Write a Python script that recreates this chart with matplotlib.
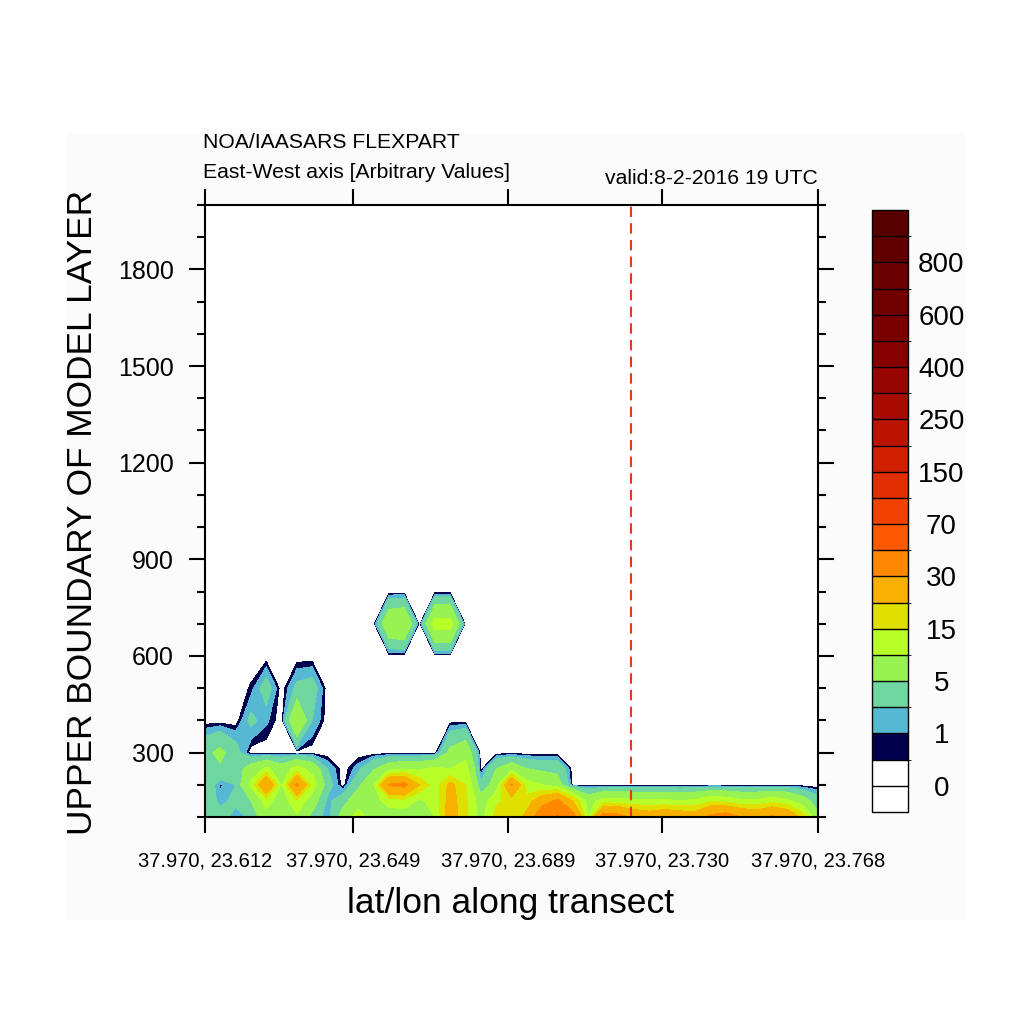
import numpy as np
import matplotlib
matplotlib.use("Agg")
import matplotlib.pyplot as plt
from matplotlib.colors import ListedColormap, BoundaryNorm
from matplotlib.patches import Rectangle
from matplotlib.ticker import MultipleLocator

plt.rcParams['font.family'] = ['Liberation Sans', 'DejaVu Sans']

# -----------------------------
# DATA (read off the transect)
# -----------------------------
# upper boundary of model layer (m)
heights = [100, 150, 200, 250, 300, 400, 500, 600, 700, 800]

# concentration per layer, 41 points along the transect
lev100 = [3.5, 3, 1.2, 2.5, 8, 6, 9, 4, 0.8, 7, 12, 8, 7, 7, 4.5, 10, 24, 16, 8, 17, 15,
          22, 40, 52, 35, 10, 36, 34, 28, 25, 28, 26, 25, 33, 36, 30, 27, 32, 28, 18, 6]
lev150 = [3.5, 1.5, 2.5, 5, 12, 7, 14, 7, 1.5, 3.5, 8, 8, 12, 13, 9, 12, 23, 16, 7, 14, 17,
          17, 25, 32, 20, 8, 12, 12, 11, 11, 11, 10, 11, 14, 13, 11, 11, 13, 11, 7, 3]
lev200 = [4, 0.8, 2, 11, 30, 9.5, 32, 13, 3, 0, 4, 10, 31, 33, 20, 12, 22, 15, 2.5, 7, 31,
          12, 10, 7, 0, 0, 0, 0, 0, 0, 0, 0, 0, 0, 0, 0, 0, 0, 0, 0, 0]
lev250 = [5, 4.5, 3, 7, 11, 7, 12, 8, 2, 0, 1.5, 4.5, 8, 9, 9, 11, 10, 12, 0, 5, 8,
          5, 4, 4, 0, 0, 0, 0, 0, 0, 0, 0, 0, 0, 0, 0, 0, 0, 0, 0, 0]
lev300 = [4, 6, 3, 0, 0, 0, 0, 0, 0, 0, 0, 0, 0, 0, 0, 0, 6, 8, 0, 0, 0,
          0, 0, 0, 0, 0, 0, 0, 0, 0, 0, 0, 0, 0, 0, 0, 0, 0, 0, 0, 0]
lev400 = [0, 0, 0, 2.5, 1.2, 0, 10, 2, 0, 0, 0, 0, 0, 0, 0, 0, 0, 0, 0, 0, 0,
          0, 0, 0, 0, 0, 0, 0, 0, 0, 0, 0, 0, 0, 0, 0, 0, 0, 0, 0, 0]
lev500 = [0, 0, 0, 0.6, 3, 0, 2.5, 3, 0, 0, 0, 0, 0, 0, 0, 0, 0, 0, 0, 0, 0,
          0, 0, 0, 0, 0, 0, 0, 0, 0, 0, 0, 0, 0, 0, 0, 0, 0, 0, 0, 0]
lev600 = [0, 0, 0, 0, 0, 0, 0, 0, 0, 0, 0, 0, 0, 0, 0, 0, 0, 0, 0, 0, 0,
          0, 0, 0, 0, 0, 0, 0, 0, 0, 0, 0, 0, 0, 0, 0, 0, 0, 0, 0, 0]
lev700 = [0, 0, 0, 0, 0, 0, 0, 0, 0, 0, 0, 0, 9, 10, 0, 12, 12, 0, 0, 0, 0,
          0, 0, 0, 0, 0, 0, 0, 0, 0, 0, 0, 0, 0, 0, 0, 0, 0, 0, 0, 0]
lev800 = [0, 0, 0, 0, 0, 0, 0, 0, 0, 0, 0, 0, 0, 0, 0, 0, 0, 0, 0, 0, 0,
          0, 0, 0, 0, 0, 0, 0, 0, 0, 0, 0, 0, 0, 0, 0, 0, 0, 0, 0, 0]

xtick_pos = [0, 9.66, 19.77, 29.82, 40]
xtick_labels = ["37.970, 23.612", "37.970, 23.649", "37.970, 23.689",
                "37.970, 23.730", "37.970, 23.768"]
marker_x = 27.8

levels = [0, 0.5, 1, 2, 5, 10, 15, 20, 30, 50, 70, 100, 150, 200, 250, 300,
          400, 500, 600, 700, 800, 900]
cbar_ticks = [0, 1, 5, 15, 30, 70, 150, 250, 400, 600, 800]

# -----------------------------
# COLORS
# -----------------------------
FILL_COLORS = ["#ffffff", "#00004c", "#57b8d3", "#6fd6a0", "#97f252", "#b8ff29",
               "#e0e000", "#f7b000", "#ff8800", "#ff5900", "#f04200", "#e02e00",
               "#d01e00", "#bc1200", "#a90a00", "#980400", "#860000", "#7a0000",
               "#700000", "#680000", "#600000"]
UNDER_COLOR = "#ffffff"
OVER_COLOR = "#580000"
LINE_RED = "#e63a1a"
FS_TITLE = 15.2

# -----------------------------
# FIGURE
# -----------------------------
fig = plt.figure(figsize=(10.24, 10.24), dpi=100)
fig.patches.append(Rectangle((67 / 1024, 1 - 920 / 1024), 898 / 1024, 787 / 1024,
                             transform=fig.transFigure, facecolor="#fbfbfb",
                             edgecolor="none", zorder=-5))

ax = fig.add_axes([205 / 1024, 1 - 817 / 1024, 613 / 1024, 612 / 1024])
ax.set_facecolor("white")

x = np.arange(len(lev100))
conc = np.array([lev100, lev150, lev200, lev250, lev300, lev400, lev500,
                 lev600, lev700, lev800])

cmap = ListedColormap(FILL_COLORS)
cmap.set_under(UNDER_COLOR)
cmap.set_over(OVER_COLOR)
norm = BoundaryNorm(levels, cmap.N)

cf = ax.contourf(x, heights, conc, levels=levels, cmap=cmap, norm=norm, extend="both")
ax.axvline(marker_x, color=LINE_RED, lw=1.5, ls=(0, (5, 3)))

ax.set_xlim(0, 40)
ax.set_ylim(100, 2000)
ax.set_xticks(xtick_pos)
ax.set_xticklabels(xtick_labels, fontsize=14.5)
ax.set_yticks([300, 600, 900, 1200, 1500, 1800])
ax.yaxis.set_minor_locator(MultipleLocator(100))
ax.tick_params(axis="both", which="both", direction="out", top=True, right=True, width=1.5)
ax.tick_params(axis="both", which="major", length=11.5)
ax.tick_params(axis="y", which="minor", length=6)
ax.tick_params(axis="x", which="major", pad=13)
ax.tick_params(axis="y", which="major", labelsize=18, pad=11)
for sp in ax.spines.values():
    sp.set_linewidth(1.5)

# colorbar
cax = fig.add_axes([872 / 1024, 1 - 812 / 1024, 36 / 1024, 602 / 1024])
cb = fig.colorbar(cf, cax=cax, extend="both", extendrect=True, extendfrac=1 / 21,
                  spacing="uniform", drawedges=True, ticks=cbar_ticks)
cb.outline.set_linewidth(1)
cb.dividers.set_color("black")
cb.dividers.set_linewidth(1)
cax.tick_params(length=0, pad=24, labelsize=20)
for t in cax.get_yticklabels():
    t.set_horizontalalignment("center")

# -----------------------------
# TEXT
# -----------------------------
fig.text(203 / 1024, 1 - 142 / 1024, "NOA/IAASARS FLEXPART", ha="left", va="center", fontsize=FS_TITLE)
fig.text(203 / 1024, 1 - 173 / 1024, "East-West axis [Arbitrary Values]", ha="left", va="center",
         fontsize=FS_TITLE)
fig.text(818 / 1024, 1 - 178 / 1024, "valid:8-2-2016 19 UTC", ha="right", va="center", fontsize=FS_TITLE)
fig.text(83 / 1024, 1 - 512 / 1024, "UPPER BOUNDARY OF MODEL LAYER", rotation=90,
         ha="center", va="center", fontsize=25.4)
fig.text(511 / 1024, 1 - 904 / 1024, "lat/lon along transect", ha="center", va="center", fontsize=25.5)

fig.savefig("out.png", dpi=100)
